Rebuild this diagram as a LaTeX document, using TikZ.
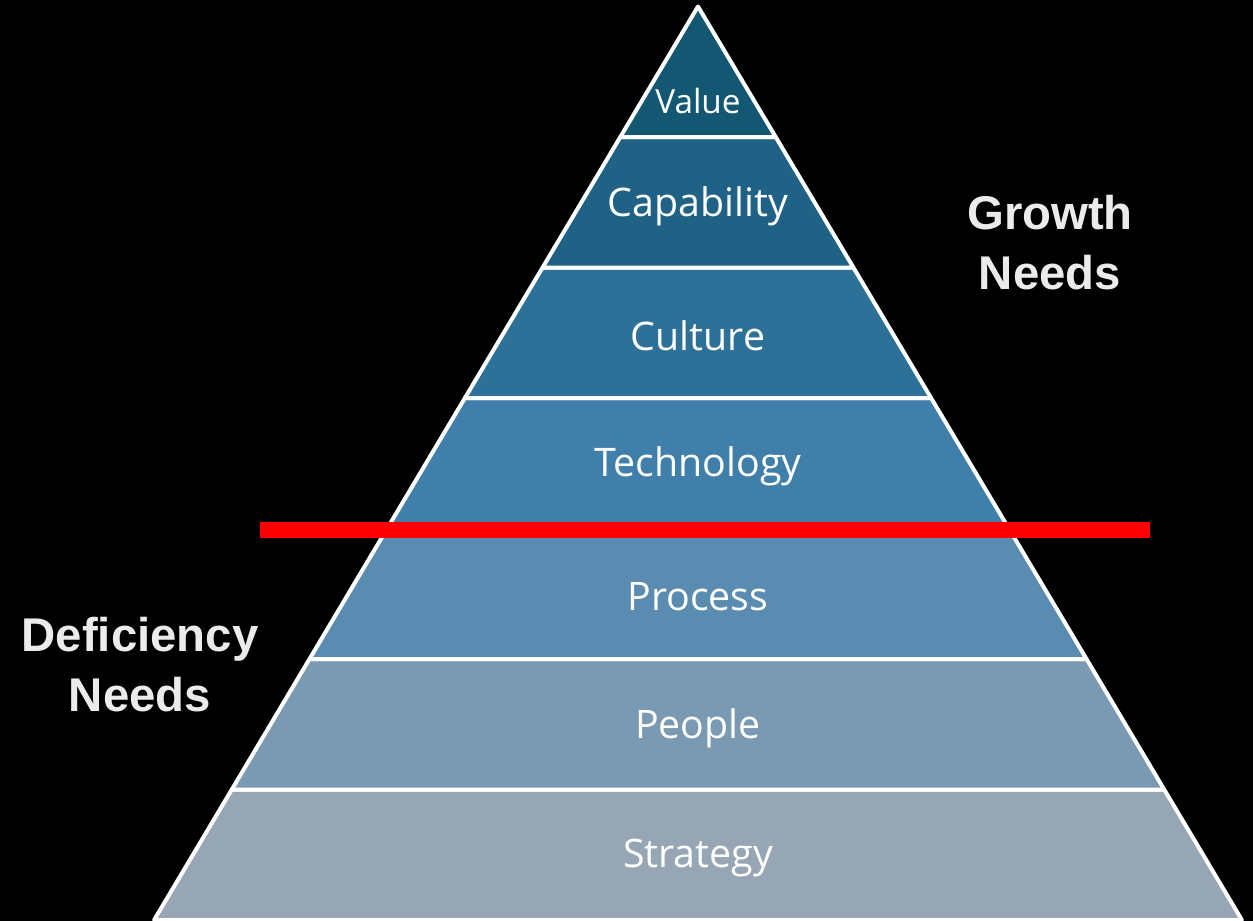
\documentclass[tikz,border=0pt]{standalone}
\usepackage{fontspec}
\setmainfont{Open Sans}
\newfontfamily\needsfont{Liberation Sans}

\definecolor{valueblue}{RGB}{19,87,115}
\definecolor{capablue}{RGB}{31,98,133}
\definecolor{cultblue}{RGB}{45,113,153}
\definecolor{techblue}{RGB}{63,127,170}
\definecolor{procblue}{RGB}{90,139,176}
\definecolor{peopblue}{RGB}{122,153,178}
\definecolor{stratgray}{RGB}{151,166,180}
\definecolor{needsgray}{RGB}{235,235,235}

\tikzset{every picture/.style={line width=0.75pt}}
\tikzset{
  level/.style={draw=white, line width=3pt, line join=round},
  levellabel/.style={text=white, inner sep=0.75pt, font=\fontsize{29.5}{35}\selectfont},
  needslabel/.style={text=needsgray, inner sep=0.75pt, align=center, font=\needsfont\bfseries\fontsize{35.5}{45}\selectfont}
}

\begin{document}
\begin{tikzpicture}[x=0.75pt,y=0.75pt,yscale=-1,xscale=1]
%set diagram left start at 0, and has height of 921
\fill[black] (0,0) rectangle (1253,921);
\useasboundingbox (0,0) rectangle (1253,921);

%Shape: Trapezoid [id:strategy]
\draw [level, fill=stratgray] (231.8,789.5) -- (1164.2,789.5) -- (1241.9,920) -- (154.1,920) -- cycle ;
%Shape: Trapezoid [id:people]
\draw [level, fill=peopblue] (309.5,659) -- (1086.5,659) -- (1164.2,789.5) -- (231.8,789.5) -- cycle ;
%Shape: Trapezoid [id:process]
\draw [level, fill=procblue] (387.2,528.5) -- (1008.8,528.5) -- (1086.5,659) -- (309.5,659) -- cycle ;
%Shape: Trapezoid [id:technology]
\draw [level, fill=techblue] (464.9,398) -- (931.1,398) -- (1008.8,528.5) -- (387.2,528.5) -- cycle ;
%Shape: Trapezoid [id:culture]
\draw [level, fill=cultblue] (542.6,267.5) -- (853.4,267.5) -- (931.1,398) -- (464.9,398) -- cycle ;
%Shape: Trapezoid [id:capability]
\draw [level, fill=capablue] (620.3,137) -- (775.7,137) -- (853.4,267.5) -- (542.6,267.5) -- cycle ;
%Shape: Triangle [id:value]
\draw [level, fill=valueblue] (698,6.5) -- (775.7,137) -- (620.3,137) -- cycle ;

%Straight Lines [id:redline]
\draw [color=red, line width=12pt] (260,530) -- (1150,530) ;

% Text Node
\node [levellabel, font=\fontsize{25}{30}\selectfont] (valuetext) at (698,101) {Value};
% Text Node
\node [levellabel] (capatext) at (698,206) {Capability};
% Text Node
\node [levellabel] (culttext) at (698,336) {Culture};
% Text Node
\node [levellabel] (techtext) at (698,466) {Technology};
% Text Node
\node [levellabel] (proctext) at (698,597) {Process};
% Text Node
\node [levellabel] (peoptext) at (698,728) {People};
% Text Node
\node [levellabel] (strattext) at (698,858) {Strategy};
% Text Node
\node [needslabel] (growth) at (1050,243) {Growth\\Needs};
% Text Node
\node [needslabel] (deficiency) at (140,665) {Deficiency\\Needs};

\end{tikzpicture}
\end{document}
